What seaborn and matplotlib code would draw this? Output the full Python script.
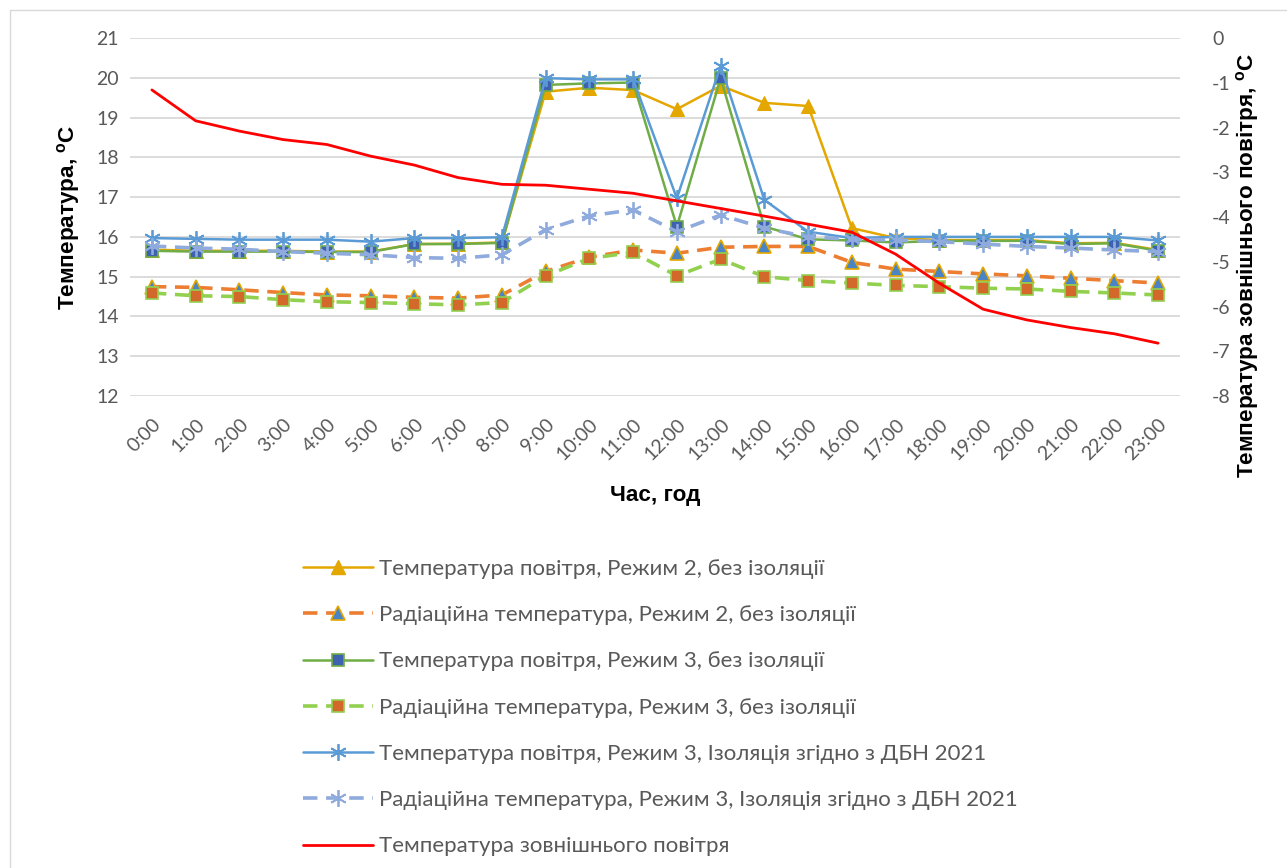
import numpy as np
import pandas as pd
import seaborn as sns
import matplotlib.pyplot as plt
from matplotlib.lines import Line2D

sns.set_theme(style="white")
plt.rcParams['font.family'] = ['Lato', 'DejaVu Sans']
plt.rcParams['axes.unicode_minus'] = False

hours = [f"{h}:00" for h in range(24)]

air_m2 = [15.68, 15.65, 15.65, 15.65, 15.63, 15.63, 15.82, 15.83, 15.86,
          19.65, 19.75, 19.69, 19.21, 19.80, 19.37, 19.29, 16.22, 15.97,
          15.92, 15.92, 15.92, 15.84, 15.85, 15.67]
rad_m2 = [14.75, 14.73, 14.67, 14.60, 14.54, 14.52, 14.48, 14.46, 14.54,
          15.13, 15.49, 15.67, 15.59, 15.74, 15.76, 15.76, 15.36, 15.19,
          15.13, 15.07, 15.02, 14.96, 14.90, 14.84]
air_m3 = [15.65, 15.63, 15.63, 15.63, 15.62, 15.62, 15.82, 15.82, 15.85,
          19.82, 19.86, 19.88, 16.26, 19.99, 16.26, 15.94, 15.91, 15.86,
          15.90, 15.90, 15.90, 15.82, 15.84, 15.65]
rad_m3 = [14.59, 14.52, 14.50, 14.42, 14.37, 14.35, 14.32, 14.29, 14.35,
          15.02, 15.46, 15.61, 15.02, 15.44, 15.00, 14.90, 14.84, 14.78,
          14.75, 14.71, 14.69, 14.63, 14.59, 14.54]
air_dbn = [15.97, 15.95, 15.93, 15.93, 15.93, 15.88, 15.97, 15.97, 15.99,
           19.99, 19.96, 19.96, 16.97, 20.30, 16.93, 16.13, 15.97, 16.00,
           16.00, 16.00, 16.00, 16.00, 16.00, 15.91]
rad_dbn = [15.77, 15.72, 15.69, 15.63, 15.59, 15.55, 15.48, 15.46, 15.55,
           16.18, 16.53, 16.68, 16.13, 16.55, 16.22, 16.00, 15.94, 15.92,
           15.88, 15.82, 15.76, 15.72, 15.67, 15.63]
outdoor = [-1.16, -1.85, -2.08, -2.27, -2.38, -2.64, -2.84, -3.12, -3.27,
           -3.29, -3.38, -3.47, -3.64, -3.81, -3.98, -4.16, -4.34, -4.83,
           -5.48, -6.06, -6.30, -6.47, -6.61, -6.82]

labels = [
    "Температура повітря, Режим 2, без ізоляції",
    "Радіаційна температура, Режим 2, без ізоляції",
    "Температура повітря, Режим 3, без ізоляції",
    "Радіаційна температура, Режим 3, без ізоляції",
    "Температура повітря, Режим 3, Ізоляція згідно з ДБН 2021",
    "Радіаційна температура, Режим 3, Ізоляція згідно з ДБН 2021",
    "Температура зовнішнього повітря",
]

df = pd.DataFrame({"pos": np.arange(len(hours)), "air_m2": air_m2, "rad_m2": rad_m2,
                   "air_m3": air_m3, "rad_m3": rad_m3, "air_dbn": air_dbn,
                   "rad_dbn": rad_dbn, "outdoor": outdoor})

fig = plt.figure(figsize=(12.87, 8.68), dpi=100)
ax = fig.add_axes([130 / 1287, 1 - 396 / 868, 1050 / 1287, 358 / 868])
ax2 = ax.twinx()

dash = (0, (4, 2.4))
styles = [
    ("air_m2", dict(color="#E4A700", lw=1.8, marker="^", ms=10, mfc="#E4A700", mec="#E4A700")),
    ("rad_m2", dict(color="#ED7D31", lw=2.6, ls=dash, marker="^", ms=10, mfc="#4A84C4", mec="#E4A700", mew=1.2)),
    ("air_m3", dict(color="#70AD47", lw=1.8, marker="s", ms=9, mfc="#3E62B0", mec="#70AD47", mew=1.2)),
    ("rad_m3", dict(color="#92D050", lw=2.6, ls=dash, marker="s", ms=9, mfc="#D2692A", mec="#92D050", mew=1.2)),
    ("air_dbn", dict(color="#5B9BD5", lw=1.8, marker=(6, 2, 0), ms=12, mec="#5B9BD5", mew=1.3)),
    ("rad_dbn", dict(color="#8FAADC", lw=2.6, ls=dash, marker=(6, 2, 0), ms=12, mec="#8FAADC", mew=1.3)),
]
handles = []
for (col, kw), lab in zip(styles, labels):
    sns.lineplot(data=df, x="pos", y=col, ax=ax, errorbar=None, legend=False, **kw)
    handles.append(Line2D([], [], **kw))

sns.lineplot(data=df, x="pos", y="outdoor", ax=ax2, errorbar=None, legend=False,
             color="#FF0000", lw=2.0)
handles.append(Line2D([], [], color="#FF0000", lw=2.0))

ax.set_xlim(-0.5, len(hours) - 0.5)
ax.set_ylim(12, 21)
ax.set_yticks(range(12, 22))
ax2.set_ylim(-8, 0)
ax2.set_yticks(range(-8, 1))
ax.set_xticks(df["pos"])
ax.set_xticklabels(hours, rotation=45, ha="right", rotation_mode="anchor")

ax.grid(axis="y", color="#D9D9D9", lw=1.3)
ax.set_axisbelow(True)
for a in (ax, ax2):
    for s in a.spines.values():
        s.set_visible(False)
    a.tick_params(length=0, labelsize=14, labelcolor="#595959")
ax.tick_params(axis="y", pad=8)
ax.tick_params(axis="x", pad=14)
for t in ax2.get_yticklabels():
    t.set_ha("left")
ax2.tick_params(axis="y", pad=23)

bold = dict(family=["Liberation Sans", "DejaVu Sans"], weight="bold", size=16.2, color="black")
ax.set_ylabel(r"Температура, $^{\mathregular{o}}$C", labelpad=10, **bold)
ax.set_xlabel("Час, год", labelpad=16, **bold)
ax2.set_ylabel("")
fig.text(1248 / 1287, 1 - 266 / 868, r"Температура зовнішнього повітря, $^{\mathregular{o}}$C",
         rotation=90, ha="center", va="center", **bold)

fig.legend(handles, labels, loc="upper left", bbox_to_anchor=(303 / 1287, 1 - 559 / 868),
           frameon=False, fontsize=16, labelcolor="#595959", handlelength=3.15,
           handletextpad=0.27, labelspacing=1.18, borderpad=0, borderaxespad=0)

fig.add_artist(Line2D([10 / 1287, 1], [1 - 10 / 868] * 2, color="#D9D9D9", lw=1))
fig.add_artist(Line2D([10 / 1287] * 2, [0, 1 - 10 / 868], color="#D9D9D9", lw=1))

fig.savefig("out.png", dpi=100)
